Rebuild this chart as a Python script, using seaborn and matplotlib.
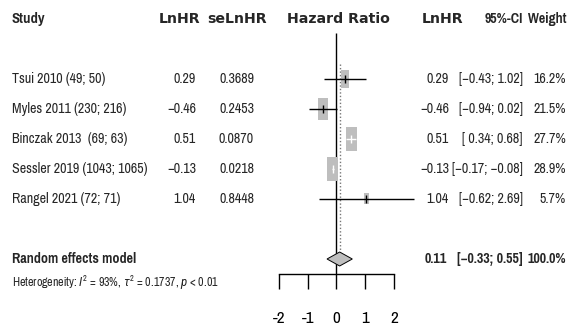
import matplotlib
matplotlib.use('Agg')
import matplotlib.pyplot as plt
import matplotlib.transforms as mtransforms
from matplotlib.path import Path
from matplotlib.patches import Polygon
import pandas as pd
import seaborn as sns

# --- data ---
studies = ['Tsui 2010 (49; 50)', 'Myles 2011 (230; 216)', 'Binczak 2013  (69; 63)',
           'Sessler 2019 (1043; 1065)', 'Rangel 2021 (72; 71)']
lnhr = [0.29, -0.46, 0.51, -0.13, 1.04]
se_lnhr = [0.3689, 0.2453, 0.0870, 0.0218, 0.8448]
ci_lo = [-0.43, -0.94, 0.34, -0.17, -0.62]
ci_hi = [1.02, 0.02, 0.68, -0.08, 2.69]
weights = [16.2, 21.5, 27.7, 28.9, 5.7]

pooled_est = 0.11
pooled_lo = -0.33
pooled_hi = 0.55
pooled_weight = 100.0
het_text = r'Heterogeneity: $I^2$ = 93%, $\tau^2$ = 0.1737, $p$ < 0.01'

xticks = [-2, -1, 0, 1, 2]

sns.set_style('white')
NARROW = 'Pragati Narrow'
plt.rcParams['font.family'] = [NARROW, 'Roboto Condensed', 'DejaVu Sans']
plt.rcParams['mathtext.fontset'] = 'custom'
plt.rcParams['mathtext.rm'] = NARROW
plt.rcParams['mathtext.it'] = 'Roboto Condensed:italic'

W, H = 570, 331
PX_PER_UNIT = 28.75
ZERO_PX = 336.5

fig = plt.figure(figsize=(W / 100, H / 100), dpi=100)
ax = fig.add_axes([0, 0, 1, 1])
ax.set_xlim(-ZERO_PX / PX_PER_UNIT, (W - ZERO_PX) / PX_PER_UNIT)
ax.set_ylim(10.4, -0.633)  # row units, 30 px per row

df = pd.DataFrame({'study': studies, 'lnhr': lnhr, 'se': se_lnhr,
                   'lo': ci_lo, 'hi': ci_hi, 'weight': weights})
df['row'] = range(2, 2 + len(df))
pooled_row = df['row'].max() + 2

# weight boxes (narrow rectangles, area ~ weight)
box = Path([(-0.225, -0.5), (0.225, -0.5), (0.225, 0.5), (-0.225, 0.5), (-0.225, -0.5)], closed=True)
k = 11.0
sns.scatterplot(data=df, x='lnhr', y='row', size='weight',
                sizes=(k * min(weights), k * max(weights)),
                size_norm=(min(weights), max(weights)),
                marker=box, color='#BEBEBE', linewidth=0, legend=False,
                ax=ax, zorder=2)

# confidence intervals: white when they fit inside the box
for _, r in df.iterrows():
    half_w = 0.225 * (k * r['weight']) ** 0.5 * (100 / 72) / PX_PER_UNIT
    inside = r['lo'] >= r['lnhr'] - half_w and r['hi'] <= r['lnhr'] + half_w
    c = 'white' if inside else 'black'
    ax.plot([r['lo'], r['hi']], [r['row'], r['row']], color=c, lw=1, zorder=3,
            solid_capstyle='butt')
    ax.plot(r['lnhr'], r['row'], marker='|', ms=5.5, mew=1, color=c, zorder=3)

# pooled diamond
dh = 0.233
ax.add_patch(Polygon([[pooled_lo, pooled_row], [pooled_est, pooled_row - dh],
                      [pooled_hi, pooled_row], [pooled_est, pooled_row + dh]],
                     closed=True, fc='#BEBEBE', ec='black', lw=0.7, zorder=3))

# reference lines
ax.vlines(0, 0.47, pooled_row + 0.5, color='black', lw=1, zorder=1)
ax.vlines(pooled_est, 1.5, pooled_row - dh, color='#777777', lw=1,
          linestyles=(0, (1, 1.5)), zorder=1)

# x axis below the pooled row
for s in ['top', 'left', 'right']:
    ax.spines[s].set_visible(False)
ax.spines['bottom'].set_position(('data', pooled_row + 0.5))
ax.spines['bottom'].set_bounds(min(xticks), max(xticks))
ax.spines['bottom'].set_color('black')
ax.spines['bottom'].set_linewidth(1)
ax.set_xticks(xticks)
ax.set_xticklabels([str(t) for t in xticks])
ax.tick_params(axis='x', direction='out', length=10.5, width=1, pad=16,
               labelsize=13.5, colors='black', bottom=True)
ax.set_yticks([])
ax.set_xlabel('')
ax.set_ylabel('')

# text columns
tr = mtransforms.blended_transform_factory(fig.transFigure, ax.transData)


def fx(px):
    return px / W


def fmt(v, nd=2):
    s = f'{v:.{nd}f}'
    return s.replace('-', '\u2212')


def fci(lo, hi):
    a = fmt(lo) if lo < 0 else ' ' + fmt(lo)
    b = fmt(hi)
    return f'[{a}; {b}]'


body = 11
bold_wide = dict(family='DejaVu Sans', fontweight='bold', fontsize=10.2)

# headers
ax.text(fx(12), 0, 'Study', transform=tr, ha='left', va='center', fontsize=11.5, fontweight='bold')
ax.text(fx(180), 0, 'LnHR', transform=tr, ha='center', va='center', **bold_wide)
ax.text(fx(237), 0, 'seLnHR', transform=tr, ha='center', va='center', **bold_wide)
ax.text(fx(338), 0, 'Hazard Ratio', transform=tr, ha='center', va='center', **bold_wide)
ax.text(fx(443), 0, 'LnHR', transform=tr, ha='center', va='center', **bold_wide)
ax.text(fx(523), 0, '95%-CI', transform=tr, ha='right', va='center', fontsize=11, fontweight='bold')
ax.text(fx(566), 0, 'Weight', transform=tr, ha='right', va='center', fontsize=11, fontweight='bold')

for _, r in df.iterrows():
    y = r['row']
    ax.text(fx(12), y, r['study'], transform=tr, ha='left', va='center', fontsize=body)
    ax.text(fx(196), y, fmt(r['lnhr']), transform=tr, ha='right', va='center', fontsize=body)
    ax.text(fx(254), y, f"{r['se']:.4f}", transform=tr, ha='right', va='center', fontsize=body)
    ax.text(fx(449), y, fmt(r['lnhr']), transform=tr, ha='right', va='center', fontsize=body)
    ax.text(fx(523), y, fci(r['lo'], r['hi']), transform=tr, ha='right', va='center', fontsize=body)
    ax.text(fx(566), y, f"{r['weight']:.1f}%", transform=tr, ha='right', va='center', fontsize=body)

ax.text(fx(12), pooled_row, 'Random effects model', transform=tr, ha='left', va='center',
        fontsize=11, fontweight='bold')
ax.text(fx(447), pooled_row, fmt(pooled_est), transform=tr, ha='right', va='center',
        fontsize=body, fontweight='bold')
ax.text(fx(523), pooled_row, fci(pooled_lo, pooled_hi), transform=tr, ha='right', va='center',
        fontsize=body, fontweight='bold')
ax.text(fx(566), pooled_row, f'{pooled_weight:.1f}%', transform=tr, ha='right', va='center',
        fontsize=body, fontweight='bold')
ax.text(fx(12), pooled_row + 0.8, het_text, transform=tr, ha='left', va='center', fontsize=9.4)

fig.savefig('out.png', dpi=100, facecolor='white')
